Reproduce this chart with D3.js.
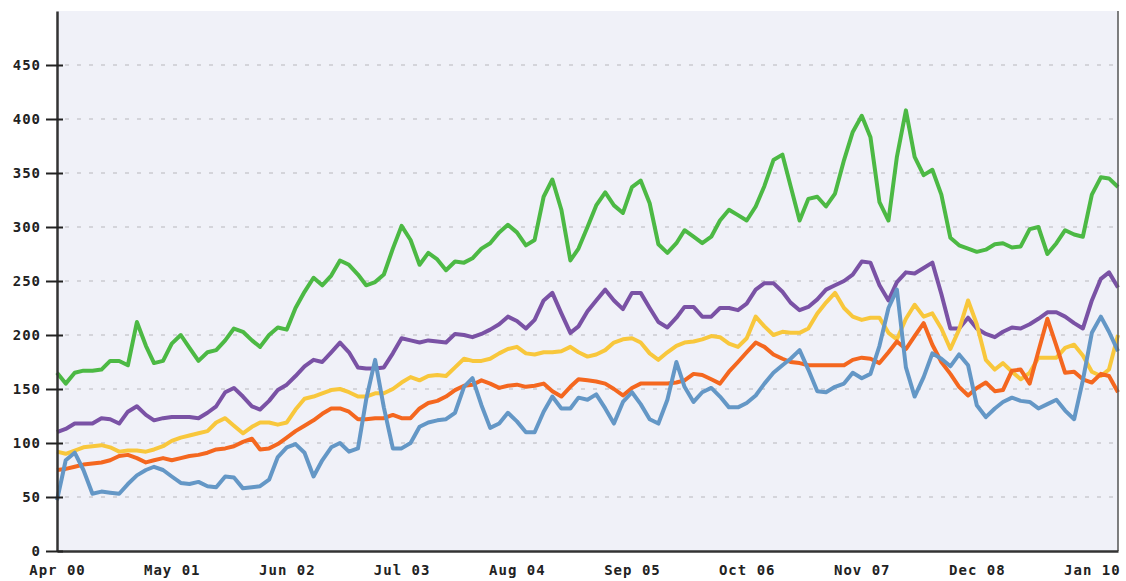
<!DOCTYPE html>
<html>
<head>
<meta charset="utf-8">
<script src="https://cdn.jsdelivr.net/npm/d3@7"></script>
<style>
  body { margin: 0; background: #fff; }
  .tick text { font-family: 'DejaVu Sans Mono', monospace; font-weight: bold; font-size: 14px; letter-spacing: 1px; fill: #222; }
</style>
</head>
<body>
<script>
// monthly values, Apr 2000 .. Apr 2010
var startMonth = new Date(2000, 3, 1);
var endMonth = new Date(2010, 3, 1);

var xTickLabels = ['Apr 00', 'May 01', 'Jun 02', 'Jul 03', 'Aug 04', 'Sep 05', 'Oct 06', 'Nov 07', 'Dec 08', 'Jan 10'];
var yTicks = [0, 50, 100, 150, 200, 250, 300, 350, 400, 450];

var green = [165,155,165,167,167,168,176,176,172,212, 190,174,176,192,200,188,176,184,186,195,
  206,203,195,189,200,207,205,225,240,253, 246,255,269,265,256,246,249,256,280,301,
  288,265,276,270,260,268,267,271,280,285, 295,302,295,283,288,328,344,316,269,280,
  300,320,332,320,313,337,343,322,284,276, 285,297,291,285,291,306,316,311,306,319,
  338,362,367,338,306,326,328,319,331,362, 388,403,383,323,306,365,408,365,348,353,
  330,290,283,280,277,279,284,285,281,282, 298,300,275,285,297,293,291,330,346,345, 337];

var purple = [110,113,118,118,118,123,122,118,129,134, 126,121,123,124,124,124,123,128,134,147,
  151,143,134,131,139,149,154,162,171,177, 175,184,193,184,170,169,169,170,183,197,
  195,193,195,194,193,201,200,198,201,205, 210,217,213,206,214,232,239,220,202,208,
  222,232,242,232,224,239,239,225,212,207, 216,226,226,217,217,225,225,223,229,242,
  248,248,240,230,223,226,233,242,246,250, 256,268,267,246,232,249,258,257,262,267,
  238,206,206,216,206,201,198,203,207,206, 210,215,221,221,217,211,206,232,252,258, 244];

var yellow = [92,90,93,96,97,98,96,92,93,93, 92,94,97,102,105,107,109,111,119,123,
  116,109,115,119,119,117,119,131,141,143, 146,149,150,147,143,143,146,146,150,156,
  161,158,162,163,162,170,178,176,176,178, 183,187,189,183,182,184,184,185,189,184,
  180,182,186,193,196,197,193,183,177,184, 190,193,194,196,199,198,192,189,197,217,
  208,200,203,202,202,206,220,230,239,225, 217,214,216,216,202,196,215,228,217,220,
  206,187,205,232,210,177,168,174,166,159, 165,179,179,179,188,191,181,166,162,168, 200];

var orange = [75,76,78,80,81,82,84,88,89,86, 82,84,86,84,86,88,89,91,94,95,
  97,101,104,94,95,99,105,111,116,121, 127,132,132,129,122,122,123,123,126,123,
  123,132,137,139,143,149,153,154,158,155, 151,153,154,152,153,155,148,143,152,159,
  158,157,155,150,144,151,155,155,155,155, 156,158,164,163,159,155,166,175,184,193,
  189,182,178,175,174,172,172,172,172,172, 177,179,178,174,184,194,187,199,211,191,
  175,164,152,144,151,156,148,149,167,168, 155,185,215,190,165,166,159,156,164,162, 147];

var blue = [47,84,91,75,53,55,54,53,62,70, 75,78,75,69,63,62,64,60,59,69,
  68,58,59,60,66,87,96,99,91,69, 84,96,100,92,95,140,177,133,95,95,
  100,115,119,121,122,128,152,160,135,114, 118,128,120,110,110,129,143,132,132,142,
  140,145,132,118,138,147,136,122,118,140, 175,152,138,147,151,143,133,133,137,144,
  155,165,172,178,186,168,148,147,152,155, 165,160,164,190,225,242,170,143,161,183,
  178,171,182,172,135,124,132,138,142,139, 138,132,136,140,130,122,158,202,217,203, 185];

var months = d3.timeMonth.range(startMonth, d3.timeMonth.offset(endMonth, 1));

var width = 1126, height = 581;
var plotLeft = 57, plotRight = 1118, plotTop = 11, plotBottom = 551;

var svg = d3.select('body').append('svg')
    .attr('width', width)
    .attr('height', height);

//scales
var xscale = d3.scaleTime().domain([startMonth, endMonth]).range([plotLeft, plotRight]);
var yscale = d3.scaleLinear().domain([0, 500]).range([plotBottom, plotTop]);

//plot background
svg.append('rect')
    .attr('x', plotLeft).attr('y', plotTop)
    .attr('width', plotRight - plotLeft).attr('height', plotBottom - plotTop)
    .attr('fill', '#f0f1f8');

//dashed grid
svg.selectAll('line.grid')
    .data(yTicks.filter(function (d) { return d > 0; }))
    .enter().append('line')
    .attr('class', 'grid')
    .attr('x1', plotLeft + 8).attr('x2', plotRight)
    .attr('y1', function (d) { return yscale(d); })
    .attr('y2', function (d) { return yscale(d); })
    .attr('stroke', '#b8b8bc')
    .attr('stroke-width', 1.2)
    .attr('stroke-dasharray', '4,8');

//lines
var line = d3.line()
    .x(function (d, i) { return xscale(months[i]); })
    .y(function (d) { return yscale(d); });

var series = [
    { values: green, color: '#4cb944' },
    { values: purple, color: '#7a52a5' },
    { values: yellow, color: '#f8c73c' },
    { values: orange, color: '#f4671f' },
    { values: blue, color: '#6497c6' }
];

svg.selectAll('path.series')
    .data(series)
    .enter().append('path')
    .attr('class', 'series')
    .attr('d', function (d) { return line(d.values); })
    .attr('fill', 'none')
    .attr('stroke', function (d) { return d.color; })
    .attr('stroke-width', 4)
    .attr('stroke-linejoin', 'round');

//right border
svg.append('line')
    .attr('x1', plotRight).attr('x2', plotRight)
    .attr('y1', plotTop).attr('y2', plotBottom)
    .attr('stroke', '#555')
    .attr('stroke-width', 1.5);

//axes
var parseLabel = d3.timeParse('%b %y');
var xaxis = d3.axisBottom(xscale)
    .tickValues(xTickLabels.map(parseLabel))
    .tickFormat(d3.timeFormat('%b %y'))
    .tickSize(0)
    .tickPadding(14);

var yaxis = d3.axisLeft(yscale)
    .tickValues(yTicks)
    .tickSize(0)
    .tickPadding(16);

var gx = svg.append('g')
    .attr('transform', 'translate(0,' + plotBottom + ')')
    .call(xaxis);
gx.select('.domain').attr('stroke', '#333').attr('stroke-width', 2.5);

var gy = svg.append('g')
    .attr('transform', 'translate(' + plotLeft + ',0)')
    .call(yaxis);
gy.select('.domain').attr('stroke', '#333').attr('stroke-width', 2.5);
gy.selectAll('.tick').append('line')
    .attr('x1', -11).attr('x2', 6)
    .attr('stroke', '#222')
    .attr('stroke-width', 2);
gy.selectAll('.tick text').attr('dy', '0.35em');
</script>
</body>
</html>
